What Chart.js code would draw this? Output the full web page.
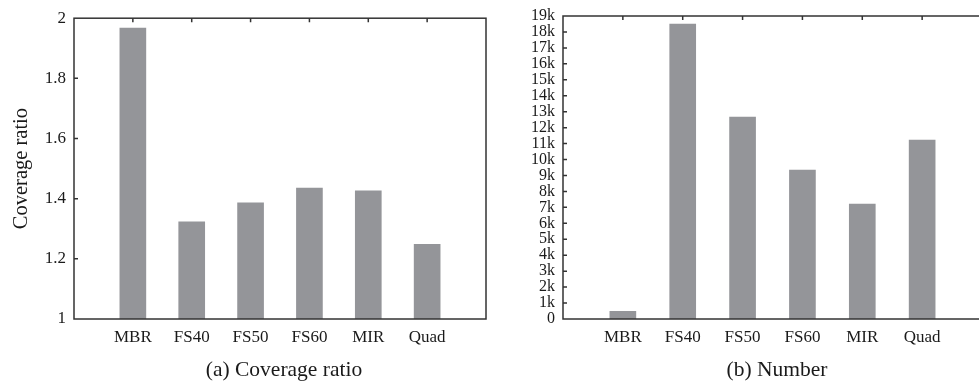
<!DOCTYPE html>
<html>
<head>
<meta charset="utf-8">
<script src="https://cdn.jsdelivr.net/npm/chart.js@4/dist/chart.umd.min.js"></script>
<style>
  html, body { margin: 0; padding: 0; background: #fff; overflow: hidden; }
  body { width: 979px; height: 383px; position: relative; }
  canvas { position: absolute; top: 0; }
  .caption {
    position: absolute; top: 357px; width: 300px; text-align: center;
    font-family: "Liberation Serif", serif; font-size: 21.5px; color: #1a1a1a;
  }
</style>
</head>
<body>
<canvas id="ratioChart" width="494" height="383" style="left:0"></canvas>
<canvas id="numberChart" width="500" height="383" style="left:490px"></canvas>
<div class="caption" style="left:134px">(a) Coverage ratio</div>
<div class="caption" style="left:627px">(b) Number</div>
<script>
const categories = ['MBR', 'FS40', 'FS50', 'FS60', 'MIR', 'Quad'];
const coverageRatio = [1.967, 1.323, 1.386, 1.435, 1.426, 1.248];
const numberCounts = [480, 18500, 12660, 9340, 7210, 11220];
const ratioTicks = [1, 1.2, 1.4, 1.6, 1.8, 2];
const numberTickStep = 1000;

const barColor = '#949599';
const axisColor = '#333';
const textColor = '#1a1a1a';
const serif = '"Liberation Serif", "Times New Roman", serif';

// empty slot at each end, like the original axis
const paddedLabels = [''].concat(categories, ['']);
const pad = arr => [null].concat(arr, [null]);

// frame plus inward ticks (left axis and top)
const framePlugin = {
  id: 'frame',
  afterDraw(chart) {
    const { ctx, chartArea: a, scales } = chart;
    ctx.save();
    ctx.strokeStyle = axisColor;
    ctx.lineWidth = 1.5;
    ctx.strokeRect(a.left, a.top, a.right - a.left, a.bottom - a.top);
    ctx.beginPath();
    scales.y.ticks.forEach(t => {
      const y = scales.y.getPixelForValue(t.value);
      if (y > a.top + 1 && y < a.bottom - 1) {
        ctx.moveTo(a.left, y);
        ctx.lineTo(a.left + 4, y);
      }
    });
    categories.forEach((c, i) => {
      const x = scales.x.getPixelForValue(i + 1);
      ctx.moveTo(x, a.top);
      ctx.lineTo(x, a.top + 4);
    });
    ctx.stroke();
    ctx.restore();
  }
};

function makeChart(id, values, yOpts, yWidth, yTitle) {
  return new Chart(id, {
    type: 'bar',
    data: {
      labels: paddedLabels,
      datasets: [{
        data: pad(values),
        backgroundColor: barColor,
        borderWidth: 0,
        barThickness: 26
      }]
    },
    options: {
      responsive: false,
      animation: false,
      devicePixelRatio: 1,
      layout: { padding: { top: 16, right: 1, left: 0, bottom: 0 } },
      plugins: { legend: { display: false }, tooltip: { enabled: false } },
      scales: {
        x: {
          offset: false,
          grid: { display: false, drawTicks: false },
          border: { display: false },
          ticks: {
            color: textColor, padding: 8, maxRotation: 0, autoSkip: false,
            font: { family: serif, size: 17 }
          },
          afterFit(scale) { scale.height = 383 - 16 - 303; }
        },
        y: Object.assign({
          grid: { display: false, drawTicks: false },
          border: { display: false },
          title: {
            display: !!yTitle, text: yTitle || '', color: textColor,
            font: { family: serif, size: 20.5 },
            padding: { top: 9, bottom: 0 }
          },
          afterFit(scale) { scale.width = yWidth; }
        }, yOpts)
      }
    },
    plugins: [framePlugin]
  });
}

makeChart('ratioChart', coverageRatio, {
  min: ratioTicks[0],
  max: ratioTicks[ratioTicks.length - 1],
  ticks: {
    stepSize: 0.2, color: textColor, padding: 8,
    font: { family: serif, size: 17 },
    callback: v => String(Math.round(v * 10) / 10)
  }
}, 74, 'Coverage ratio');

makeChart('numberChart', numberCounts, {
  min: 0,
  max: 19000,
  ticks: {
    stepSize: numberTickStep, color: textColor, padding: 8, autoSkip: false,
    font: { family: serif, size: 16, lineHeight: 1 },
    callback: v => v === 0 ? '0' : (v / 1000) + 'k'
  }
}, 73, null);
</script>
</body>
</html>
